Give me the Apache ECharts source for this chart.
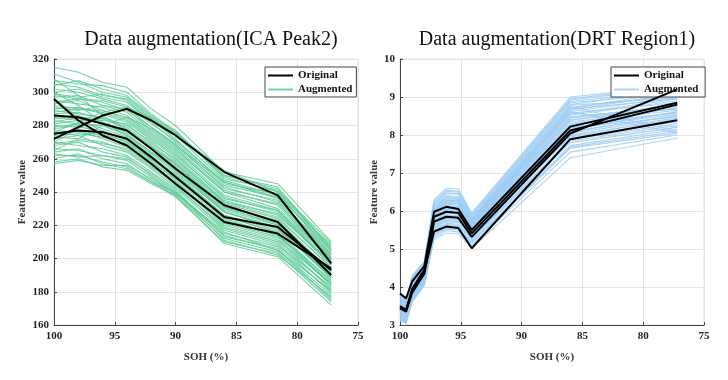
<!DOCTYPE html>
<html>
<head>
<meta charset="utf-8">
<script src="https://cdn.jsdelivr.net/npm/echarts@6/dist/echarts.min.js"></script>
<style>html,body{margin:0;padding:0;background:#fff;}#c{width:728px;height:380px;}</style>
</head>
<body>
<div id="c"></div>
<script>
// ---- Left panel: ICA Peak2 ----
const xLeft = [100, 98, 96, 94, 92, 90, 86, 81.6, 77.2];
const originalLeft = [
  [272, 279, 286, 290, 283, 274, 252, 238, 197],
  [296, 283, 274, 268, 257, 245, 222, 215, 194],
  [286, 285, 281, 277, 266, 254, 232, 222, 190],
  [275, 277, 276, 272, 261, 249, 225, 219, 193]
];
const augmentedLeft = [
  [315, 312, 306, 303, 290, 280, 252, 245, 210],
  [307, 305, 304, 300, 287, 276, 249, 240, 207],
  [305, 303, 298, 296, 284, 274, 247, 238, 205],
  [302, 300, 296, 292, 281, 271, 246, 236, 203],
  [300, 302, 297, 294, 282, 270, 244, 237, 208],
  [298, 296, 294, 289, 279, 268, 243, 234, 201],
  [297, 298, 292, 290, 277, 267, 241, 232, 199],
  [295, 293, 291, 286, 275, 265, 240, 230, 200],
  [293, 295, 289, 285, 274, 264, 238, 229, 197],
  [292, 290, 288, 283, 272, 262, 237, 228, 196],
  [290, 291, 287, 282, 271, 261, 235, 226, 198],
  [289, 287, 285, 280, 270, 259, 234, 225, 194],
  [287, 288, 284, 279, 268, 258, 233, 224, 195],
  [286, 284, 282, 277, 267, 257, 232, 222, 191],
  [284, 286, 281, 276, 266, 255, 230, 221, 193],
  [283, 281, 280, 274, 264, 254, 229, 220, 190],
  [281, 283, 278, 273, 263, 252, 228, 219, 188],
  [280, 279, 277, 271, 261, 251, 226, 217, 190],
  [278, 280, 275, 270, 260, 249, 225, 216, 186],
  [277, 276, 274, 268, 258, 248, 223, 214, 187],
  [275, 277, 272, 267, 257, 246, 222, 213, 184],
  [273, 272, 270, 265, 255, 245, 220, 211, 185],
  [272, 274, 268, 264, 254, 243, 219, 210, 182],
  [270, 268, 266, 262, 252, 242, 217, 208, 183],
  [268, 270, 264, 261, 250, 240, 215, 207, 180],
  [266, 265, 262, 259, 249, 239, 214, 205, 178],
  [264, 266, 260, 257, 247, 238, 212, 204, 176],
  [262, 262, 258, 255, 246, 237, 210, 203, 174],
  [258, 260, 255, 253, 245, 238, 209, 201, 172],
  [260, 263, 257, 254, 246, 240, 211, 202, 177],
  [270, 278, 286, 290, 284, 275, 253, 240, 202],
  [276, 282, 288, 291, 285, 276, 250, 242, 205],
  [265, 272, 280, 285, 278, 268, 246, 237, 200],
  [300, 292, 282, 274, 264, 255, 228, 218, 188],
  [308, 298, 286, 277, 267, 257, 231, 220, 189],
  [296, 285, 276, 270, 260, 250, 226, 215, 184],
  [311, 306, 300, 297, 285, 275, 250, 243, 206],
  [304, 307, 302, 298, 286, 277, 248, 241, 209],
  [299, 297, 299, 295, 283, 272, 245, 239, 204],
  [294, 296, 295, 291, 279, 269, 242, 235, 202],
  [291, 289, 292, 288, 276, 266, 240, 233, 200],
  [288, 290, 289, 284, 273, 263, 236, 229, 199],
  [285, 283, 283, 281, 269, 260, 234, 227, 196],
  [282, 285, 284, 278, 267, 256, 231, 223, 192],
  [279, 281, 280, 275, 264, 253, 228, 218, 189],
  [276, 274, 276, 272, 262, 250, 224, 214, 185],
  [274, 275, 273, 269, 259, 247, 221, 212, 181],
  [269, 271, 269, 266, 256, 244, 218, 209, 179],
  [263, 261, 262, 260, 251, 241, 213, 206, 175],
  [257, 259, 256, 256, 248, 239, 216, 205, 181]
];

// ---- Right panel: DRT Region1 ----
const xRight = [100, 99.5, 99, 98, 97.2, 96.2, 95.2, 94.1, 86, 77.2];
const originalRight = [
  [3.83, 3.70, 4.15, 4.55, 5.98, 6.11, 6.05, 5.50, 8.22, 8.85],
  [3.50, 3.40, 3.95, 4.45, 5.85, 5.98, 5.95, 5.41, 8.12, 8.80],
  [3.44, 3.35, 3.85, 4.35, 5.72, 5.85, 5.82, 5.32, 8.04, 9.20],
  [3.46, 3.38, 3.90, 4.40, 5.46, 5.59, 5.55, 5.02, 7.89, 8.39]
];
const augmentedRight = [
  [3.80, 3.65, 4.30, 4.68, 6.30, 6.60, 6.58, 5.95, 9.00, 9.30],
  [3.75, 3.60, 4.25, 4.65, 6.20, 6.52, 6.50, 5.88, 8.92, 9.25],
  [3.70, 3.58, 4.20, 4.62, 6.15, 6.45, 6.45, 5.85, 8.85, 9.10],
  [3.68, 3.55, 4.18, 4.60, 6.10, 6.40, 6.38, 5.80, 8.80, 9.20],
  [3.65, 3.52, 4.15, 4.58, 6.05, 6.35, 6.33, 5.78, 8.72, 9.05],
  [3.62, 3.50, 4.12, 4.55, 6.02, 6.30, 6.28, 5.75, 8.68, 8.95],
  [3.60, 3.48, 4.10, 4.52, 6.00, 6.25, 6.24, 5.72, 8.62, 9.00],
  [3.58, 3.45, 4.08, 4.50, 5.95, 6.20, 6.20, 5.70, 8.58, 8.85],
  [3.55, 3.42, 4.05, 4.48, 5.92, 6.18, 6.15, 5.68, 8.52, 8.90],
  [3.52, 3.40, 4.02, 4.45, 5.90, 6.12, 6.10, 5.65, 8.48, 8.75],
  [3.50, 3.38, 4.00, 4.42, 5.85, 6.08, 6.05, 5.62, 8.44, 8.80],
  [3.48, 3.35, 3.98, 4.40, 5.82, 6.05, 6.02, 5.60, 8.40, 8.70],
  [3.45, 3.32, 3.95, 4.38, 5.80, 6.00, 5.98, 5.58, 8.35, 8.65],
  [3.42, 3.30, 3.92, 4.35, 5.75, 5.98, 5.95, 5.55, 8.30, 8.72],
  [3.40, 3.28, 3.90, 4.32, 5.72, 5.95, 5.92, 5.52, 8.25, 8.60],
  [3.38, 3.25, 3.88, 4.30, 5.70, 5.90, 5.88, 5.50, 8.20, 8.55],
  [3.35, 3.22, 3.85, 4.28, 5.65, 5.88, 5.85, 5.48, 8.15, 8.62],
  [3.32, 3.20, 3.82, 4.25, 5.62, 5.85, 5.82, 5.45, 8.10, 8.50],
  [3.30, 3.18, 3.80, 4.22, 5.60, 5.80, 5.78, 5.42, 8.05, 8.45],
  [3.28, 3.15, 3.78, 4.20, 5.55, 5.78, 5.75, 5.40, 8.00, 8.40],
  [3.25, 3.12, 3.75, 4.18, 5.52, 5.72, 5.70, 5.35, 7.95, 8.35],
  [3.22, 3.10, 3.72, 4.15, 5.48, 5.68, 5.65, 5.30, 7.88, 8.30],
  [3.20, 3.08, 3.70, 4.12, 5.45, 5.62, 5.60, 5.25, 7.80, 8.20],
  [3.18, 3.06, 3.68, 4.10, 5.40, 5.58, 5.55, 5.20, 7.72, 8.15],
  [3.15, 3.05, 3.65, 4.08, 5.35, 5.52, 5.50, 5.15, 7.65, 8.05],
  [3.12, 3.05, 3.62, 4.05, 5.30, 5.48, 5.45, 5.10, 7.55, 8.00],
  [3.10, 3.05, 3.60, 4.05, 5.25, 5.42, 5.40, 5.02, 7.40, 7.92],
  [3.35, 3.28, 3.95, 4.40, 5.90, 6.22, 6.20, 5.70, 8.70, 9.15],
  [3.45, 3.35, 4.02, 4.45, 5.98, 6.28, 6.25, 5.75, 8.60, 8.20],
  [3.55, 3.40, 4.05, 4.50, 6.08, 6.35, 6.30, 5.80, 8.75, 8.10],
  [3.78, 3.62, 4.28, 4.66, 6.25, 6.55, 6.52, 5.92, 8.95, 9.28],
  [3.72, 3.57, 4.22, 4.63, 6.18, 6.48, 6.46, 5.86, 8.88, 9.18],
  [3.66, 3.53, 4.16, 4.59, 6.08, 6.38, 6.35, 5.79, 8.78, 8.98],
  [3.61, 3.49, 4.11, 4.54, 6.01, 6.28, 6.26, 5.74, 8.65, 9.10],
  [3.56, 3.44, 4.06, 4.49, 5.94, 6.22, 6.18, 5.69, 8.55, 8.95],
  [3.51, 3.39, 4.01, 4.44, 5.88, 6.10, 6.08, 5.64, 8.46, 8.68],
  [3.46, 3.33, 3.96, 4.39, 5.81, 6.03, 6.00, 5.59, 8.38, 8.78],
  [3.41, 3.29, 3.91, 4.33, 5.74, 5.96, 5.93, 5.53, 8.28, 8.58],
  [3.36, 3.23, 3.86, 4.29, 5.68, 5.89, 5.86, 5.49, 8.18, 8.48],
  [3.31, 3.19, 3.81, 4.24, 5.61, 5.82, 5.80, 5.44, 8.08, 8.52],
  [3.26, 3.14, 3.76, 4.19, 5.54, 5.75, 5.72, 5.37, 7.98, 8.42],
  [3.21, 3.09, 3.71, 4.14, 5.47, 5.65, 5.62, 5.28, 7.84, 8.25],
  [3.16, 3.06, 3.66, 4.09, 5.38, 5.55, 5.52, 5.18, 7.68, 8.10],
  [3.40, 3.30, 3.98, 4.42, 5.93, 6.15, 6.12, 5.66, 8.62, 8.05]
];

const titles = ['Data augmentation(ICA Peak2)', 'Data augmentation(DRT Region1)'];
const xName = 'SOH (%)';
const yName = 'Feature value';

const SERIF = "'Liberation Serif', 'Times New Roman', serif";
const GREEN = 'rgba(95, 203, 150, 0.85)';
const BLUE = 'rgba(158, 205, 243, 0.85)';

function pairs(xs, ys) { return xs.map((x, i) => [x, ys[i]]); }

const series = [];
function addSeries(xs, aug, orig, idx, augColor, suffix) {
  aug.forEach(ys => series.push({
    type: 'line', name: 'Augmented' + suffix, xAxisIndex: idx, yAxisIndex: idx,
    data: pairs(xs, ys), symbol: 'none', silent: true,
    lineStyle: { color: augColor, width: 1.1 }, itemStyle: { color: augColor }
  }));
  orig.forEach(ys => series.push({
    type: 'line', name: 'Original' + suffix, xAxisIndex: idx, yAxisIndex: idx,
    data: pairs(xs, ys), symbol: 'none', silent: true, z: 5,
    lineStyle: { color: '#000', width: 2 }, itemStyle: { color: '#000' }
  }));
}
addSeries(xLeft, augmentedLeft, originalLeft, 0, GREEN, '');
addSeries(xRight, augmentedRight, originalRight, 1, BLUE, ' ');

function xAxis(idx) {
  return {
    type: 'value', gridIndex: idx, inverse: true, min: 75, max: 100, interval: 5,
    name: xName, nameLocation: 'middle', nameGap: 27,
    nameTextStyle: { fontFamily: SERIF, fontWeight: 'bold', fontSize: 11, color: '#333' },
    axisLine: { show: true, lineStyle: { color: '#444', width: 1 } },
    axisTick: { show: true, inside: true, length: 3, lineStyle: { color: '#444' } },
    axisLabel: { fontFamily: SERIF, fontWeight: 'bold', fontSize: 11, color: '#222', margin: 6 },
    splitLine: { show: true, lineStyle: { color: '#e4e4e4', width: 1 } }
  };
}
function yAxis(idx, min, max, interval, gap) {
  return {
    type: 'value', gridIndex: idx, min: min, max: max, interval: interval,
    name: yName, nameLocation: 'middle', nameGap: gap, nameRotate: 90,
    nameTextStyle: { fontFamily: SERIF, fontWeight: 'bold', fontSize: 11, color: '#333' },
    axisLine: { show: true, lineStyle: { color: '#444', width: 1 } },
    axisTick: { show: true, inside: true, length: 3, lineStyle: { color: '#444' } },
    axisLabel: { fontFamily: SERIF, fontWeight: 'bold', fontSize: 11, color: '#222', margin: 5 },
    splitLine: { show: true, lineStyle: { color: '#e4e4e4', width: 1 } }
  };
}
function legend(left, suffix, augColor) {
  return {
    orient: 'vertical', left: left, top: 67,
    data: [
      { name: 'Original' + suffix, icon: 'rect', itemStyle: { color: '#000' } },
      { name: 'Augmented' + suffix, icon: 'rect', itemStyle: { color: augColor } }
    ],
    itemWidth: 25, itemHeight: 2, itemGap: 3,
    padding: [3, 4, 2, 3],
    borderColor: '#444', borderWidth: 1, backgroundColor: '#fff',
    selectedMode: false,
    textStyle: { fontFamily: SERIF, fontWeight: 'bold', fontSize: 11, color: '#111', lineHeight: 11 }
  };
}

const chart = echarts.init(document.getElementById('c'), null, { renderer: 'canvas' });
chart.setOption({
  animation: false,
  backgroundColor: '#fff',
  title: [
    { text: titles[0], left: 206, top: 25, textAlign: 'center',
      textStyle: { fontFamily: SERIF, fontWeight: 'normal', fontSize: 20, color: '#111' } },
    { text: titles[1], left: 552, top: 25, textAlign: 'center',
      textStyle: { fontFamily: SERIF, fontWeight: 'normal', fontSize: 20, color: '#111' } }
  ],
  grid: [
    { left: 54, top: 59, width: 304, height: 266, show: true, borderColor: '#e4e4e4', borderWidth: 1 },
    { left: 400, top: 59, width: 304, height: 266, show: true, borderColor: '#e4e4e4', borderWidth: 1 }
  ],
  xAxis: [xAxis(0), xAxis(1)],
  yAxis: [yAxis(0, 160, 320, 20, 26), yAxis(1, 3, 10, 1, 20)],
  legend: [legend(265, '', GREEN), legend(611, ' ', BLUE)],
  series: series
});
</script>
</body>
</html>
